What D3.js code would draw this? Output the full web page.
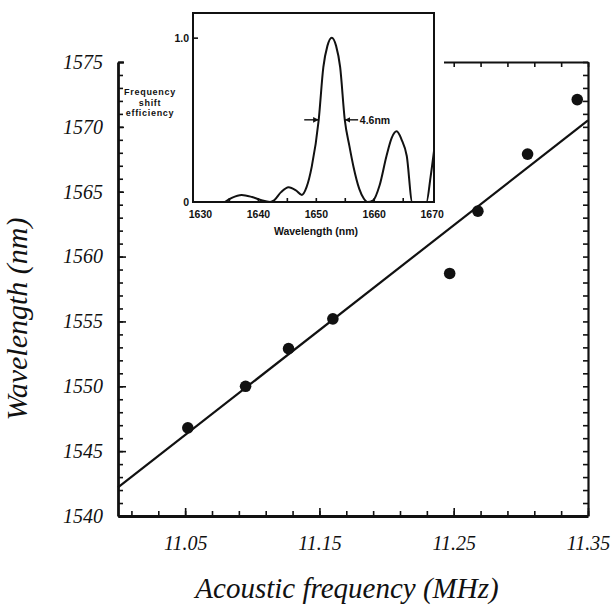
<!DOCTYPE html>
<html>
<head>
<meta charset="utf-8">
<script src="https://cdn.jsdelivr.net/npm/d3@7/dist/d3.min.js"></script>
<style>
    html, body { margin: 0; padding: 0; background: #fff; }
    #chart { width: 616px; height: 611px; }
    .axis-title { font-family: "Liberation Serif", serif; font-style: italic; fill: #111; }
    .inset-label { font-family: "Liberation Sans", Arial, sans-serif; font-weight: 700; font-size: 10.5px; fill: #111; }
    .eff-label { font-family: "Liberation Sans", Arial, sans-serif; font-weight: 700; font-size: 9px; letter-spacing: 0.7px; fill: #111; }
</style>
</head>
<body>
<div id="chart"></div>
<script>
//Datos del gráfico principal (frecuencia acústica vs longitud de onda)
const acousticFreq = [11.052, 11.095, 11.127, 11.160, 11.247, 11.268, 11.305, 11.342];
const wavelength   = [1546.8, 1550.0, 1552.9, 1555.2, 1558.7, 1563.5, 1567.9, 1572.1];

//Recta de ajuste (extremos)
const fitFreq = [11.00, 11.35];
const fitWl   = [1542.2, 1570.5];

//Etiquetas de los ejes
const xTickLabels = [11.05, 11.15, 11.25, 11.35];
const yTickLabels = [1540, 1545, 1550, 1555, 1560, 1565, 1570, 1575];

//Datos del gráfico insertado (eficiencia de desplazamiento)
const insetWl  = [1634.3, 1635.5, 1637.2, 1639.0, 1640.5, 1642.1, 1642.8, 1644.0, 1645.3, 1646.6, 1647.6, 1648.4, 1649.3,
                  1650.5, 1651.3, 1652.0, 1652.75, 1653.5, 1654.2, 1655.0, 1655.8, 1656.5, 1657.5, 1658.3, 1658.9, 1659.9,
                  1661.0, 1662.2, 1663.1, 1663.96, 1664.8, 1665.7, 1666.65, 1669.1, 1669.8, 1670.4];
const insetEff = [0, 0.025, 0.043, 0.03, 0.012, 0, 0.01, 0.06, 0.09, 0.07, 0.043, 0.09, 0.215,
                  0.5, 0.82, 0.95, 1.0, 0.95, 0.82, 0.5, 0.34, 0.215, 0.08, 0.02, 0, 0.01,
                  0.1, 0.28, 0.39, 0.43, 0.38, 0.28, 0, 0, 0.15, 0.31];
const insetXTickLabels = [1630, 1640, 1650, 1660, 1670];
const insetYTickLabels = [0, 1.0];
const fwhmLabel = '4.6nm';

let svg = d3.select('#chart')
    .append('svg')
    .attr('width', 616)
    .attr('height', 611);

//Escalas principales
let x = d3.scaleLinear()
    .domain([11.00, 11.35])
    .range([118, 588]);

let y = d3.scaleLinear()
    .domain([1540, 1575])
    .range([516, 62]);

let minorX = d3.range(11.01, 11.355, 0.02).map(function(d) { return +d.toFixed(2); });
let minorY = d3.range(1540, 1576, 1);

function styleAxis(g, width) {
    g.select('.domain').attr('stroke', '#111').attr('stroke-width', width);
    g.selectAll('.tick line').attr('stroke', '#111').attr('stroke-width', 1.6);
}

function styleMainText(g) {
    g.selectAll('text')
        .style('font-family', '"Liberation Serif", serif')
        .style('font-style', 'italic')
        .style('font-size', '20px')
        .attr('fill', '#111');
}

function styleInsetText(g) {
    g.selectAll('text')
        .style('font-family', '"Liberation Sans", Arial, sans-serif')
        .style('font-weight', '700')
        .style('font-size', '10.5px')
        .attr('fill', '#111');
}

//Ejes: marcas menores
svg.append('g')
    .attr('transform', 'translate(0,' + y(1540) + ')')
    .call(d3.axisBottom(x).tickValues(minorX).tickSize(-5).tickSizeOuter(0).tickFormat(''))
    .call(function(g) { styleAxis(g, 2.8); });

svg.append('g')
    .attr('transform', 'translate(0,' + y(1575) + ')')
    .call(d3.axisTop(x).tickValues(minorX).tickSize(-5).tickSizeOuter(0).tickFormat(''))
    .call(function(g) { styleAxis(g, 2.2); });

svg.append('g')
    .attr('transform', 'translate(' + x(11.00) + ',0)')
    .call(d3.axisLeft(y).tickValues(minorY).tickSize(-5).tickSizeOuter(0).tickFormat(''))
    .call(function(g) { styleAxis(g, 2.8); });

svg.append('g')
    .attr('transform', 'translate(' + x(11.35) + ',0)')
    .call(d3.axisRight(y).tickValues(minorY).tickSize(-5).tickSizeOuter(0).tickFormat(''))
    .call(function(g) { styleAxis(g, 2.2); });

//Ejes: marcas mayores con etiquetas
svg.append('g')
    .attr('transform', 'translate(0,' + y(1540) + ')')
    .call(d3.axisBottom(x).tickValues(xTickLabels).tickSize(-8).tickPadding(20).tickFormat(d3.format('.2f')))
    .call(function(g) { g.select('.domain').remove(); styleAxis(g, 0); styleMainText(g); });

svg.append('g')
    .attr('transform', 'translate(' + x(11.00) + ',0)')
    .call(d3.axisLeft(y).tickValues(yTickLabels).tickSize(-8).tickPadding(15).tickFormat(d3.format('d')))
    .call(function(g) { g.select('.domain').remove(); styleAxis(g, 0); styleMainText(g); });

//Recta de ajuste
let line = d3.line()
    .x(function(d) { return x(d[0]); })
    .y(function(d) { return y(d[1]); });

svg.append('path')
    .datum(d3.zip(fitFreq, fitWl))
    .attr('d', line)
    .attr('fill', 'none')
    .attr('stroke', '#111')
    .attr('stroke-width', 2.2);

//Puntos medidos
svg.append('g')
    .selectAll('circle')
    .data(d3.zip(acousticFreq, wavelength))
    .enter()
    .append('circle')
    .attr('cx', function(d) { return x(d[0]); })
    .attr('cy', function(d) { return y(d[1]); })
    .attr('r', 5.8)
    .attr('fill', '#111');

//Títulos de los ejes
svg.append('text')
    .attr('class', 'axis-title')
    .attr('x', 347)
    .attr('y', 598)
    .attr('text-anchor', 'middle')
    .style('font-size', '29px')
    .text('Acoustic frequency (MHz)');

svg.append('text')
    .attr('class', 'axis-title')
    .attr('transform', 'translate(27,319) rotate(-90)')
    .attr('text-anchor', 'middle')
    .style('font-size', '30px')
    .text('Wavelength (nm)');

/////
// Gráfico insertado
/////
svg.append('rect')
    .attr('x', 124)
    .attr('y', 0)
    .attr('width', 320)
    .attr('height', 214)
    .attr('fill', '#fff');

let ix = d3.scaleLinear()
    .domain([1628.8, 1670.4])
    .range([193, 434]);

let iy = d3.scaleLinear()
    .domain([0, 1.15])
    .range([202, 13]);

svg.append('defs').append('clipPath')
    .attr('id', 'inset-clip')
    .append('rect')
    .attr('x', ix.range()[0])
    .attr('y', iy.range()[1])
    .attr('width', ix.range()[1] - ix.range()[0])
    .attr('height', iy.range()[0] - iy.range()[1]);

let insetLine = d3.line()
    .x(function(d) { return ix(d[0]); })
    .y(function(d) { return iy(d[1]); })
    .curve(d3.curveMonotoneX);

svg.append('path')
    .datum(d3.zip(insetWl, insetEff))
    .attr('clip-path', 'url(#inset-clip)')
    .attr('d', insetLine)
    .attr('fill', 'none')
    .attr('stroke', '#111')
    .attr('stroke-width', 2);

svg.append('rect')
    .attr('x', ix.range()[0])
    .attr('y', iy.range()[1])
    .attr('width', ix.range()[1] - ix.range()[0])
    .attr('height', iy.range()[0] - iy.range()[1])
    .attr('fill', 'none')
    .attr('stroke', '#111')
    .attr('stroke-width', 2);

svg.append('g')
    .attr('transform', 'translate(0,' + iy(0) + ')')
    .call(d3.axisBottom(ix).tickValues(d3.range(1635, 1670, 5)).tickSize(-4).tickSizeOuter(0).tickFormat(''))
    .call(function(g) { g.select('.domain').remove(); styleAxis(g, 0); });

svg.append('g')
    .attr('transform', 'translate(0,' + iy(0) + ')')
    .call(d3.axisBottom(ix).tickValues(insetXTickLabels).tickSize(0).tickPadding(9).tickFormat(d3.format('d')))
    .call(function(g) { g.select('.domain').remove(); styleInsetText(g); });

svg.append('g')
    .attr('transform', 'translate(' + ix.range()[0] + ',0)')
    .call(d3.axisLeft(iy).tickValues(insetYTickLabels).tickSize(-5).tickPadding(4).tickFormat(function(d) { return d === 0 ? '0' : d3.format('.1f')(d); }))
    .call(function(g) {
        g.select('.domain').remove();
        styleAxis(g, 0);
        styleInsetText(g);
        g.selectAll('.tick').filter(function(d) { return d === 0; }).select('line').remove();
    });

svg.append('text')
    .attr('class', 'inset-label')
    .attr('x', 316)
    .attr('y', 235)
    .attr('text-anchor', 'middle')
    .text('Wavelength  (nm)');

//Título del eje Y del insertado, en tres líneas
['Frequency', 'shift', 'efficiency'].forEach(function(t, i) {
    svg.append('text')
        .attr('class', 'eff-label')
        .attr('x', 150)
        .attr('y', 95 + i * 10.5)
        .attr('text-anchor', 'middle')
        .text(t);
});

//Anchura a media altura
let halfY = iy(0.5);
svg.select('defs').append('marker')
    .attr('id', 'arrow')
    .attr('viewBox', '0 0 10 10')
    .attr('refX', 10)
    .attr('refY', 5)
    .attr('markerWidth', 4)
    .attr('markerHeight', 4)
    .attr('orient', 'auto')
    .append('path')
    .attr('d', 'M0,0 L10,5 L0,10 z')
    .attr('fill', '#111');

svg.append('line')
    .attr('x1', ix(1648.0)).attr('x2', ix(1650.5))
    .attr('y1', halfY).attr('y2', halfY)
    .attr('stroke', '#111').attr('stroke-width', 1.4)
    .attr('marker-end', 'url(#arrow)');

svg.append('line')
    .attr('x1', ix(1657.3)).attr('x2', ix(1655.0))
    .attr('y1', halfY).attr('y2', halfY)
    .attr('stroke', '#111').attr('stroke-width', 1.4)
    .attr('marker-end', 'url(#arrow)');

svg.append('text')
    .attr('class', 'inset-label')
    .attr('x', ix(1657.6))
    .attr('y', halfY)
    .attr('dy', '0.35em')
    .text(fwhmLabel);
</script>
</body>
</html>
